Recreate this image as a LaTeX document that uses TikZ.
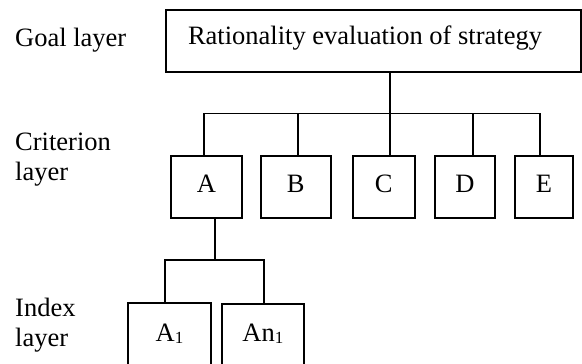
\documentclass[tikz,border=0pt]{standalone}
\usepackage{fontspec}
\setmainfont{Liberation Serif}
\newcommand\lsub[1]{\raisebox{-2pt}{\fontsize{17}{17}\selectfont #1}}
\begin{document}
\begin{tikzpicture}[x=1pt,y=-1pt,
  every node/.style={font=\fontsize{26.5}{30}\selectfont},
  box/.style={draw,line width=1.8pt,inner sep=0pt,text height=18pt,text depth=8pt},
  lbl/.style={anchor=base west,inner sep=0pt,align=left},
  conn/.style={line width=1.8pt}]
\useasboundingbox (0,0) rectangle (582,364);
% goal
\node[box,minimum width=415pt,minimum height=62pt,inner xsep=22pt,
      text height=18pt,text depth=10pt] (goal) at (373.5,41) {\makebox[371pt][l]{Rationality evaluation of strategy}};
% criterion
\node[box,minimum width=71.6pt,minimum height=62.3pt] (A) at (206.5,187.15) {A};
\node[box,minimum width=70pt,minimum height=62.3pt] (B) at (295.7,187.15) {B};
\node[box,minimum width=62pt,minimum height=62.3pt] (C) at (383.7,187.15) {C};
\node[box,minimum width=60.3pt,minimum height=62.3pt] (D) at (464.85,187.15) {D};
\node[box,minimum width=58.3pt,minimum height=62.3pt] (E) at (543.85,187.15) {E};
% index
\node[box,minimum width=82.4pt,minimum height=68pt] (A1) at (169.5,336.7) {A\lsub{1}};
\node[box,minimum width=82.3pt,minimum height=68pt,text depth=11pt] (An1) at (262.85,338.3) {An\lsub{1}};
% labels
\node[lbl] (gl) at (15,46) {Goal layer};
\node[lbl] (cl) at (15,180) {Criterion\\layer};
\node[lbl] (il) at (15,346.7) {Index\\layer};
% connectors
\coordinate (hub) at (390.3,113.5);
\draw[conn] (goal.south -| hub) -- (hub);
\draw[conn] ([xshift=-2.2pt]A.north) |- (hub) -| ([xshift=-3.5pt]E.north);
\draw[conn] ([xshift=2.6pt]B.north) -- ([xshift=2.6pt]B.north |- hub);
\draw[conn] ([xshift=6.6pt]C.north) -- (hub);
\draw[conn] ([xshift=7.85pt]D.north) -- ([xshift=7.85pt]D.north |- hub);
\coordinate (hub2) at (214.7,260);
\draw[conn] ([xshift=8.2pt]A.south) -- (hub2);
\draw[conn] ([xshift=-4.5pt]A1.north) |- (hub2) -| ([xshift=1.5pt]An1.north);
\end{tikzpicture}
\end{document}
